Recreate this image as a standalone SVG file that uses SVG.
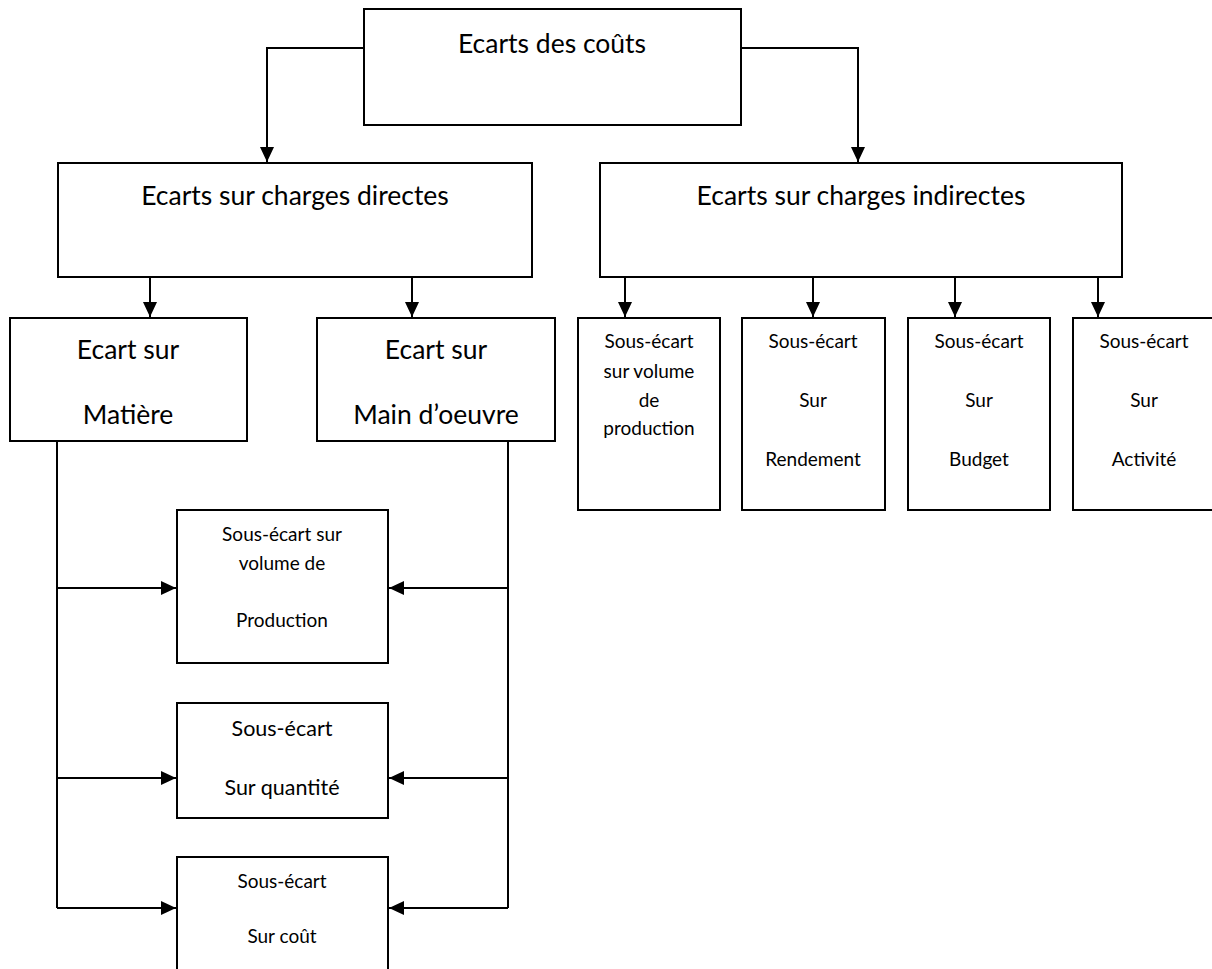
<svg xmlns="http://www.w3.org/2000/svg" width="1212" height="969" viewBox="0 0 1212 969">
  <style>
    .box { fill: #fff; stroke: #000; stroke-width: 2; }
    .wire { fill: none; stroke: #000; stroke-width: 2; }
    text { font-family: Lato, "Liberation Sans", sans-serif; fill: #000; text-anchor: middle; }
    .big { font-size: 26.5px; }
    .mid { font-size: 21.5px; }
    .small { font-size: 19px; }
  </style>
  <defs>
    <marker id="arrow" markerUnits="userSpaceOnUse" markerWidth="16" markerHeight="14" refX="15" refY="7" orient="auto">
      <path d="M0,0 L15,7 L0,14 Z" fill="#000"/>
    </marker>
  </defs>

  <rect width="1212" height="969" fill="#fff"/>

  <g id="connectors">
    <path class="wire" d="M364,48 H267 V162" marker-end="url(#arrow)"/>
    <path class="wire" d="M741,48 H858 V162" marker-end="url(#arrow)"/>
    <path class="wire" d="M150,277 V317" marker-end="url(#arrow)"/>
    <path class="wire" d="M412,277 V317" marker-end="url(#arrow)"/>
    <path class="wire" d="M625,277 V317" marker-end="url(#arrow)"/>
    <path class="wire" d="M813,277 V317" marker-end="url(#arrow)"/>
    <path class="wire" d="M955,277 V317" marker-end="url(#arrow)"/>
    <path class="wire" d="M1098,277 V317" marker-end="url(#arrow)"/>
    <path class="wire" d="M57,441 V908"/>
    <path class="wire" d="M57,588 H176" marker-end="url(#arrow)"/>
    <path class="wire" d="M57,778 H176" marker-end="url(#arrow)"/>
    <path class="wire" d="M57,908 H176" marker-end="url(#arrow)"/>
    <path class="wire" d="M508,441 V908"/>
    <path class="wire" d="M508,588 H389" marker-end="url(#arrow)"/>
    <path class="wire" d="M508,778 H389" marker-end="url(#arrow)"/>
    <path class="wire" d="M508,908 H389" marker-end="url(#arrow)"/>
  </g>

  <g id="ecarts-couts">
    <rect class="box" x="364" y="9" width="377" height="116"/>
    <text class="big" x="552" y="53">Ecarts des coûts</text>
  </g>

  <g id="charges-directes">
    <rect class="box" x="58" y="163" width="474" height="114"/>
    <text class="big" x="295" y="205">Ecarts sur charges directes</text>
  </g>

  <g id="charges-indirectes">
    <rect class="box" x="600" y="163" width="522" height="114"/>
    <text class="big" x="861" y="205">Ecarts sur charges indirectes</text>
  </g>

  <g id="ecart-matiere">
    <rect class="box" x="10" y="318" width="237" height="123"/>
    <text class="big" x="128" y="359">Ecart sur</text>
    <text class="big" x="128" y="424">Matière</text>
  </g>

  <g id="ecart-main-oeuvre">
    <rect class="box" x="317" y="318" width="238" height="123"/>
    <text class="big" x="436" y="359">Ecart sur</text>
    <text class="big" x="436" y="424">Main d’oeuvre</text>
  </g>

  <g id="indirect-volume">
    <rect class="box" x="578" y="318" width="142" height="192"/>
    <text class="small" x="649" y="348">Sous-écart</text>
    <text class="small" x="649" y="378">sur volume</text>
    <text class="small" x="649" y="407">de</text>
    <text class="small" x="649" y="435">production</text>
  </g>

  <g id="indirect-rendement">
    <rect class="box" x="742" y="318" width="143" height="192"/>
    <text class="small" x="813" y="348">Sous-écart</text>
    <text class="small" x="813" y="407">Sur</text>
    <text class="small" x="813" y="466">Rendement</text>
  </g>

  <g id="indirect-budget">
    <rect class="box" x="908" y="318" width="142" height="192"/>
    <text class="small" x="979" y="348">Sous-écart</text>
    <text class="small" x="979" y="407">Sur</text>
    <text class="small" x="979" y="466">Budget</text>
  </g>

  <g id="indirect-activite">
    <rect class="box" x="1073" y="318" width="145" height="192"/>
    <text class="small" x="1144" y="348">Sous-écart</text>
    <text class="small" x="1144" y="407">Sur</text>
    <text class="small" x="1144" y="466">Activité</text>
  </g>

  <g id="direct-volume">
    <rect class="box" x="177" y="510" width="211" height="153"/>
    <text class="small" x="282" y="541">Sous-écart sur</text>
    <text class="small" x="282" y="570">volume de</text>
    <text class="small" x="282" y="627">Production</text>
  </g>

  <g id="direct-quantite">
    <rect class="box" x="177" y="703" width="211" height="115"/>
    <text class="mid" x="282" y="736">Sous-écart</text>
    <text class="mid" x="282" y="795">Sur quantité</text>
  </g>

  <g id="direct-cout">
    <rect class="box" x="177" y="857" width="211" height="120"/>
    <text class="small" x="282" y="888">Sous-écart</text>
    <text class="small" x="282" y="943">Sur coût</text>
  </g>
</svg>
